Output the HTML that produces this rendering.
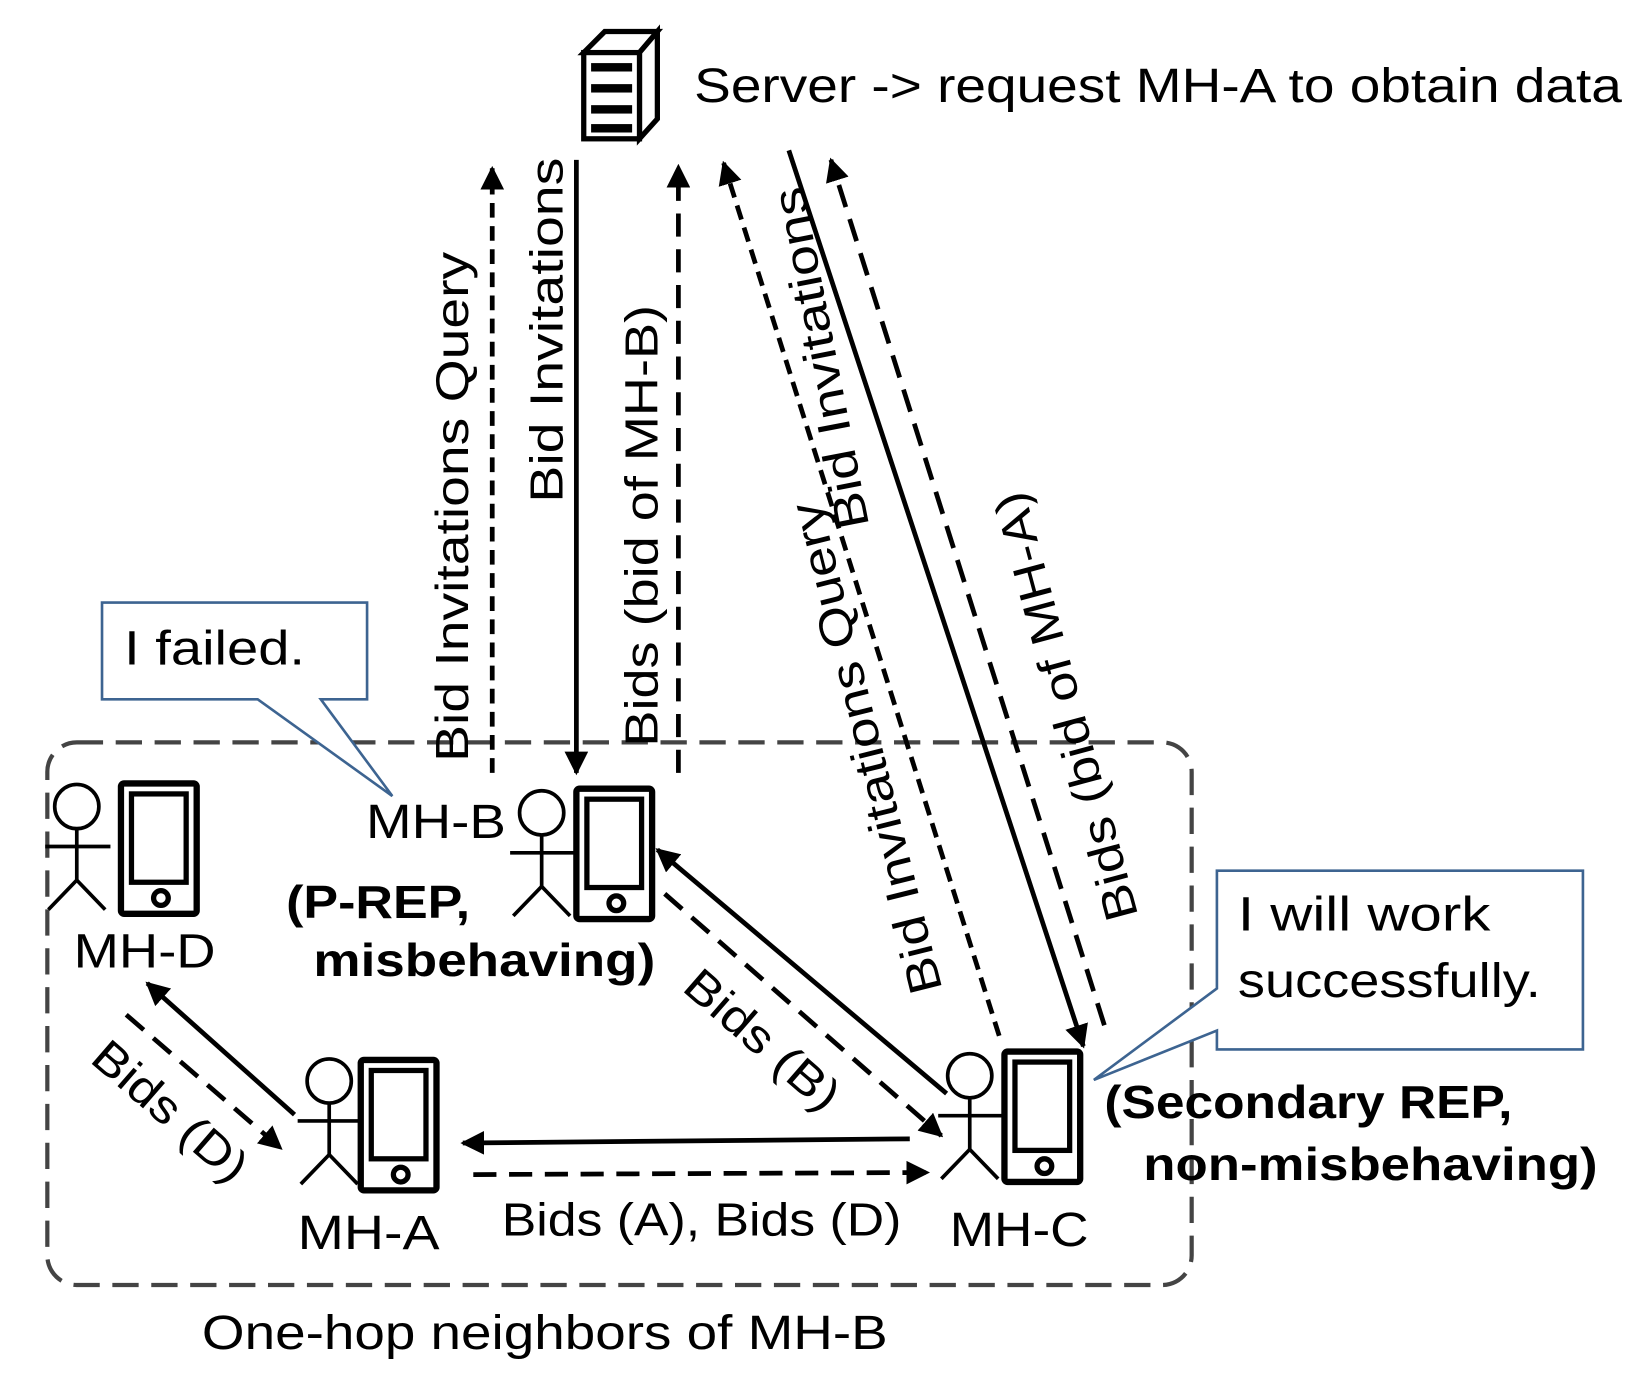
<!DOCTYPE html>
<html><head><meta charset="utf-8"><style>
html,body{margin:0;padding:0;background:#fff;}
svg{display:block;}
text{font-family:"Liberation Sans",sans-serif;fill:#000;}
</style></head><body>
<svg width="1625" height="1387" viewBox="0 0 1545 1319" preserveAspectRatio="none" xmlns="http://www.w3.org/2000/svg">
<defs>
<marker id="ah" viewBox="0 0 10 10" refX="9" refY="5" markerWidth="5" markerHeight="5" orient="auto" markerUnits="strokeWidth"><path d="M0,0 L10,5 L0,10 z" fill="#000"/></marker>
<g id="phone"><rect x="0" y="0" width="72" height="124" rx="3" fill="#fff" stroke="#000" stroke-width="6"/><rect x="10" y="10" width="52" height="84" fill="#fff" stroke="#000" stroke-width="5"/><circle cx="38" cy="109" r="7" fill="#fff" stroke="#000" stroke-width="5"/></g>
<g id="person" fill="none" stroke="#000" stroke-width="3.5"><circle cx="0" cy="0" r="21"/><line x1="0" y1="21" x2="0" y2="70"/><line x1="-30" y1="38" x2="32" y2="38"/><line x1="0" y1="70" x2="-27" y2="98"/><line x1="0" y1="70" x2="27" y2="98"/></g>
</defs>

<rect x="45" y="706" width="1088" height="516" rx="28" fill="none" stroke="#444" stroke-width="4" stroke-dasharray="25,12"/>

<g stroke="#000" stroke-width="5" fill="#fff">
<path d="M555,50 L575,30 L625,30 L608,50 Z"/>
<path d="M608,50 L625,30 L625,113 L608,132 Z"/>
<rect x="555" y="50" width="53" height="82"/>
<rect x="562" y="60" width="39" height="8" fill="#000" stroke="none"/>
<rect x="562" y="80" width="39" height="8" fill="#000" stroke="none"/>
<rect x="562" y="100" width="39" height="8" fill="#000" stroke="none"/>
<rect x="562" y="118" width="39" height="8" fill="#000" stroke="none"/>
</g>
<text x="660" y="97" font-size="46" textLength="882" lengthAdjust="spacingAndGlyphs">Server -&gt; request MH-A to obtain data</text>

<g stroke="#000" stroke-width="4.5" fill="none">
<line x1="468" y1="735" x2="468" y2="160" stroke-dasharray="14,8" marker-end="url(#ah)"/>
<line x1="548" y1="152" x2="548" y2="735" marker-end="url(#ah)"/>
<line x1="645" y1="735" x2="645" y2="158" stroke-dasharray="22,12" marker-end="url(#ah)"/>
<line x1="950" y1="985" x2="688" y2="155" stroke-dasharray="14,8" marker-end="url(#ah)"/>
<line x1="750" y1="143" x2="1030" y2="995" marker-end="url(#ah)"/>
<line x1="1050" y1="975" x2="790" y2="152" stroke-dasharray="22,12" marker-end="url(#ah)"/>
<line x1="900" y1="1040" x2="625" y2="808" marker-end="url(#ah)"/>
<line x1="632" y1="850" x2="895" y2="1080" stroke-dasharray="22,12" marker-end="url(#ah)"/>
<line x1="865" y1="1083" x2="440" y2="1087" marker-end="url(#ah)"/>
<line x1="450" y1="1117" x2="882" y2="1115" stroke-dasharray="22,12" marker-end="url(#ah)"/>
<line x1="280" y1="1060" x2="140" y2="935" marker-end="url(#ah)"/>
<line x1="120" y1="965" x2="267" y2="1092" stroke-dasharray="22,12" marker-end="url(#ah)"/>
</g>

<g font-size="44">
<text transform="translate(445,482) rotate(-90)" text-anchor="middle" textLength="485" lengthAdjust="spacingAndGlyphs">Bid Invitations Query</text>
<text transform="translate(535,314) rotate(-90)" text-anchor="middle" textLength="328" lengthAdjust="spacingAndGlyphs">Bid Invitations</text>
<text transform="translate(625,500) rotate(-90)" text-anchor="middle" textLength="420" lengthAdjust="spacingAndGlyphs">Bids (bid of MH-B)</text>
<text transform="translate(838,708) rotate(-104)" text-anchor="middle" textLength="480" lengthAdjust="spacingAndGlyphs">Bid Invitations Query</text>
<text transform="translate(795,338) rotate(-101)" text-anchor="middle" textLength="330" lengthAdjust="spacingAndGlyphs">Bid Invitations</text>
<text transform="translate(1028,668) rotate(-105)" text-anchor="middle" textLength="420" lengthAdjust="spacingAndGlyphs">Bids (bid of MH-A)</text>
<text transform="translate(715,1000) rotate(41)" text-anchor="middle" textLength="180" lengthAdjust="spacingAndGlyphs">Bids (B)</text>
<text transform="translate(152,1068) rotate(41)" text-anchor="middle" textLength="180" lengthAdjust="spacingAndGlyphs">Bids (D)</text>
<text x="477" y="1175" textLength="380" lengthAdjust="spacingAndGlyphs">Bids (A), Bids (D)</text>
</g>

<path d="M97,573 L349,573 L349,665 L305,665 L373,757 L245,665 L97,665 Z" fill="#fff" stroke="#3d6491" stroke-width="2.5"/>
<text x="118" y="632" font-size="46" textLength="172" lengthAdjust="spacingAndGlyphs">I failed.</text>
<path d="M1157,828 L1505,828 L1505,998 L1157,998 L1157,980 L1040,1027 L1157,940 Z" fill="#fff" stroke="#3d6491" stroke-width="2.5"/>
<text x="1177" y="885" font-size="46" textLength="240" lengthAdjust="spacingAndGlyphs">I will work</text>
<text x="1177" y="948" font-size="46" textLength="288" lengthAdjust="spacingAndGlyphs">successfully.</text>

<use href="#phone" x="115" y="745"/><use href="#person" x="73" y="767"/>
<use href="#phone" x="548" y="750"/><use href="#person" x="515" y="773"/>
<use href="#phone" x="343" y="1008"/><use href="#person" x="313" y="1028"/>
<use href="#phone" x="955" y="1000"/><use href="#person" x="922" y="1023"/>

<g font-size="46">
<text x="70" y="920" textLength="135" lengthAdjust="spacingAndGlyphs">MH-D</text>
<text x="348" y="797" textLength="133" lengthAdjust="spacingAndGlyphs">MH-B</text>
<text x="283" y="1188" textLength="135" lengthAdjust="spacingAndGlyphs">MH-A</text>
<text x="903" y="1185" textLength="132" lengthAdjust="spacingAndGlyphs">MH-C</text>
<text x="192" y="1283" textLength="652" lengthAdjust="spacingAndGlyphs">One-hop neighbors of MH-B</text>
</g>
<g font-size="44" font-weight="bold">
<text x="272" y="873" textLength="175" lengthAdjust="spacingAndGlyphs">(P-REP,</text>
<text x="298" y="928" textLength="325" lengthAdjust="spacingAndGlyphs">misbehaving)</text>
<text x="1050" y="1063" textLength="388" lengthAdjust="spacingAndGlyphs">(Secondary REP,</text>
<text x="1087" y="1122" textLength="432" lengthAdjust="spacingAndGlyphs">non-misbehaving)</text>
</g>
</svg>
</body></html>
